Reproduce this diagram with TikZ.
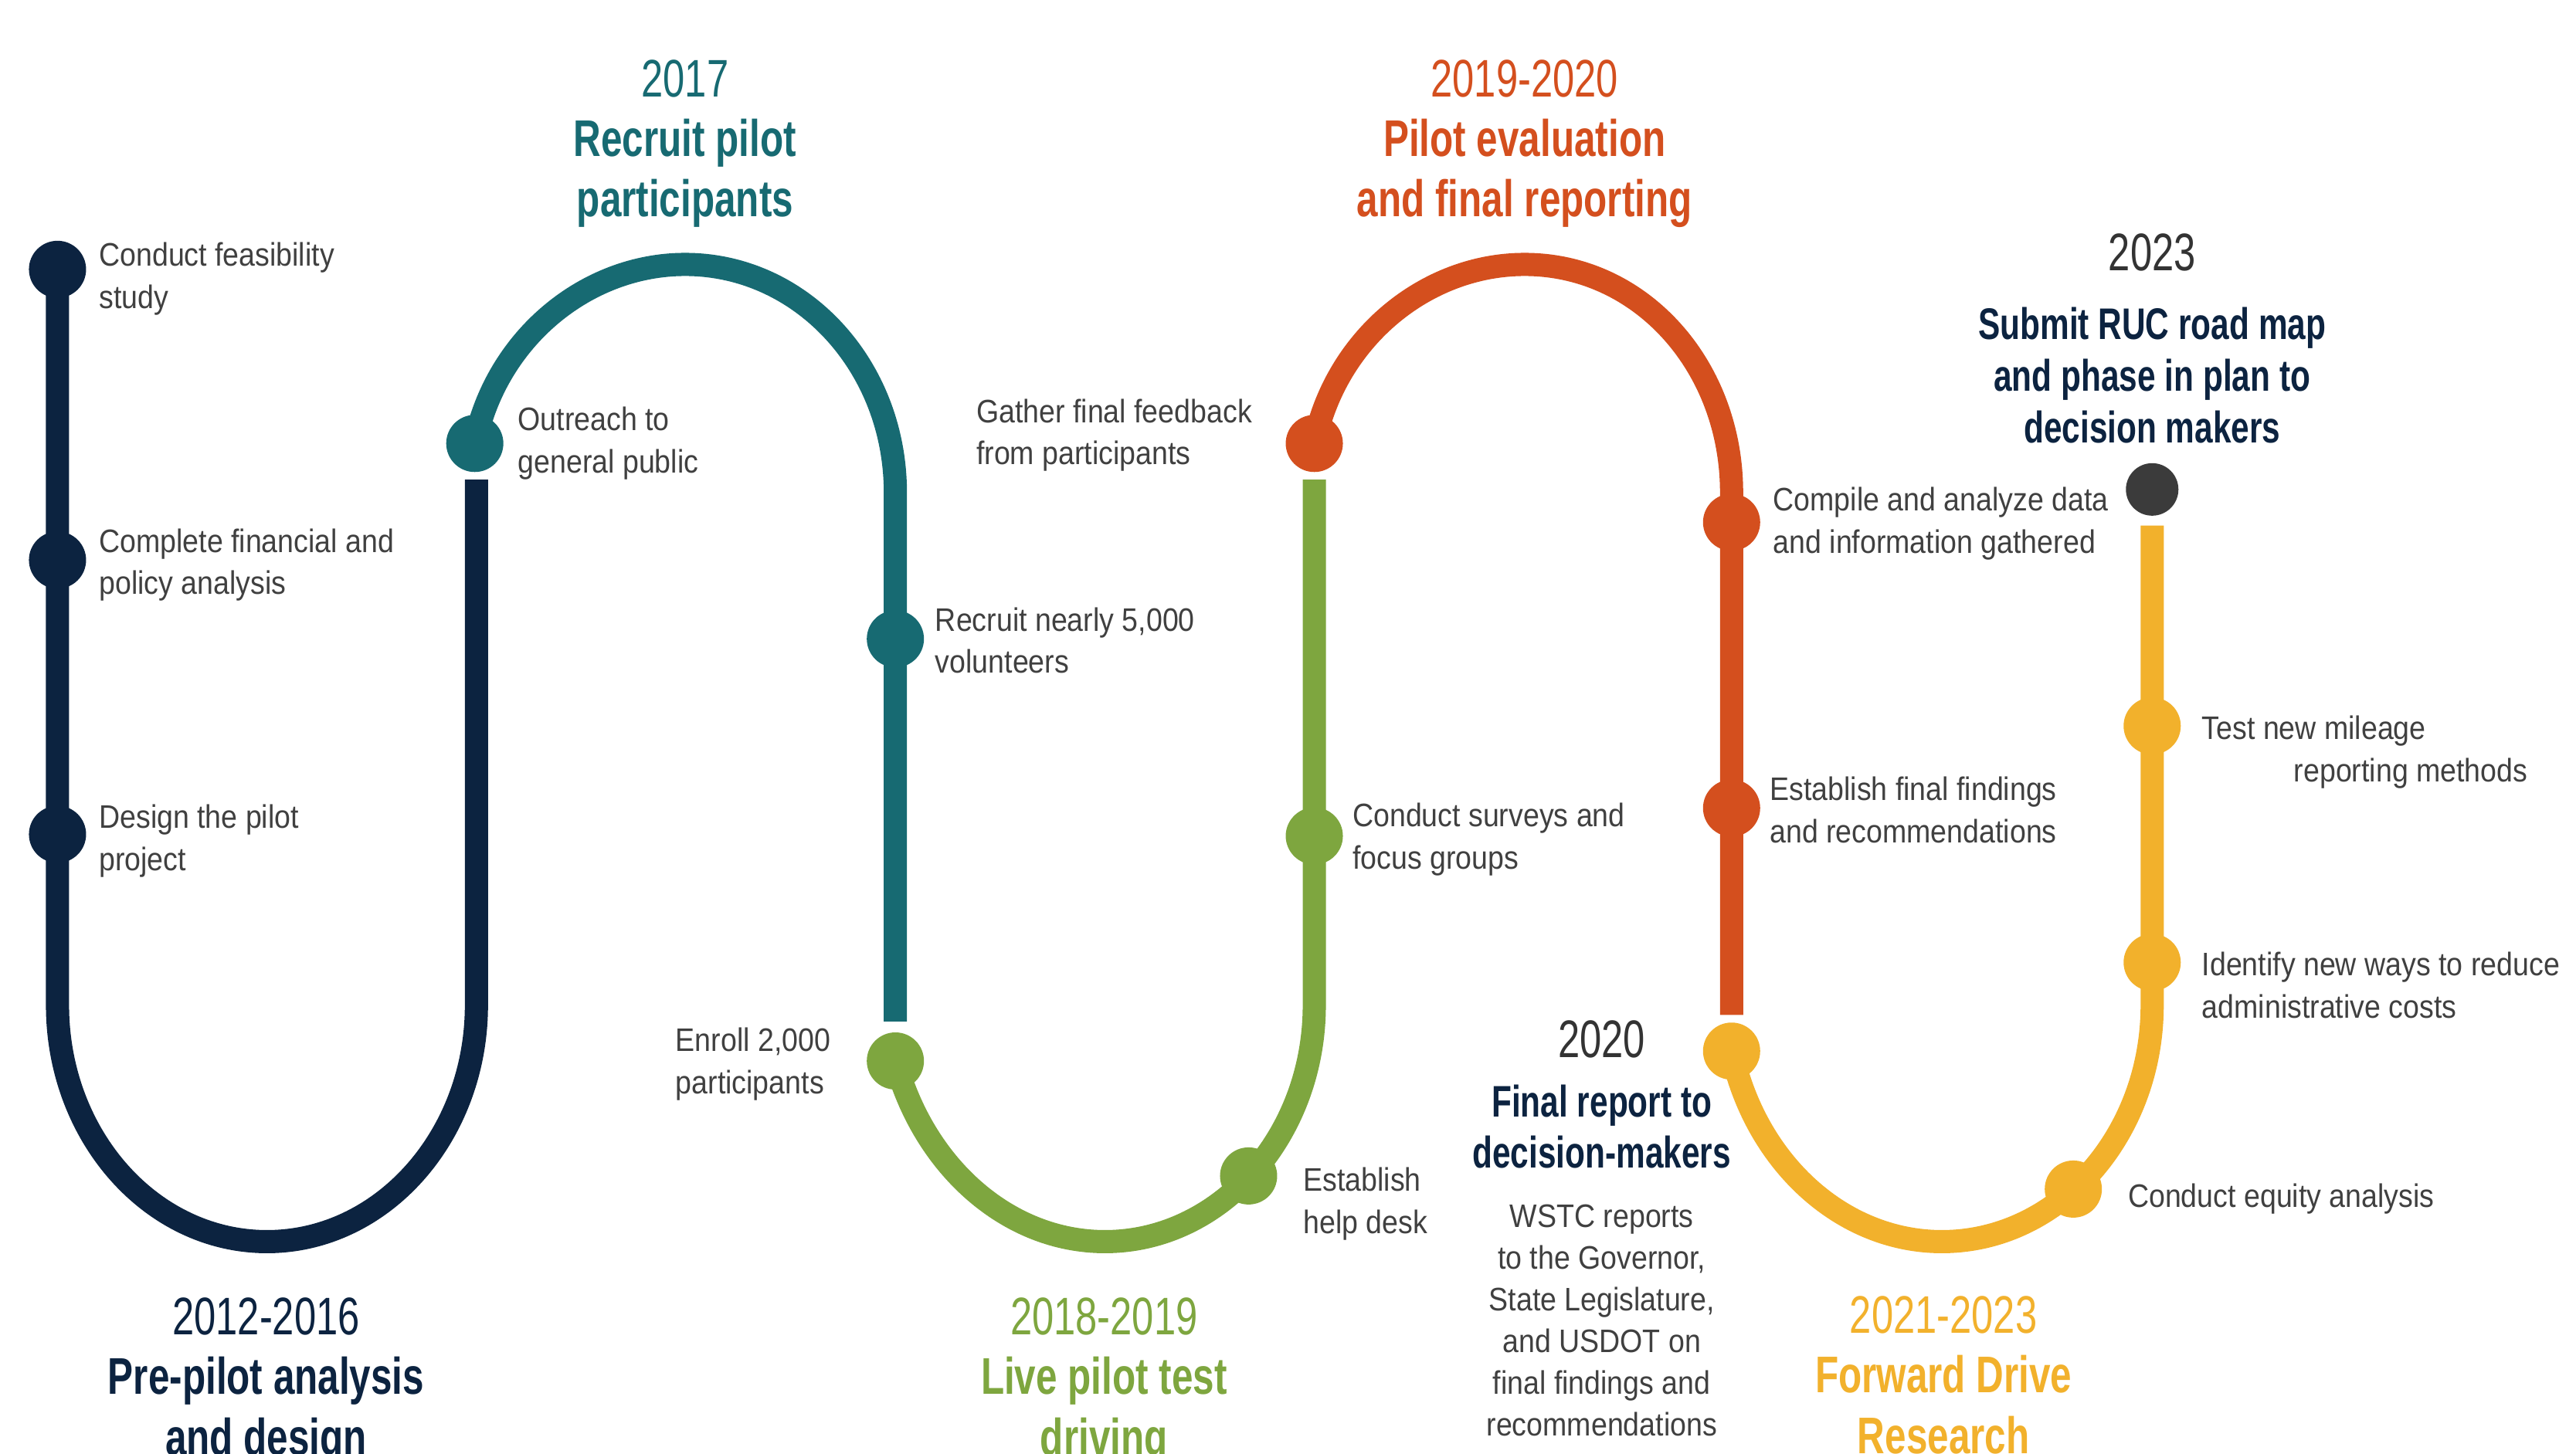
\documentclass[tikz,border=0pt]{standalone}
\usepackage{fontspec}
\setmainfont{Liberation Sans}[FakeStretch=0.89]
\newfontfamily\headfont{Liberation Sans}[FakeStretch=0.74]

\definecolor{navy}{HTML}{0C2340}
\definecolor{tealc}{HTML}{176A72}
\definecolor{greenc}{HTML}{7EA63F}
\definecolor{orangec}{HTML}{D44F1E}
\definecolor{yellowc}{HTML}{F2B12C}
\definecolor{inkgray}{HTML}{333333}
\definecolor{notegray}{HTML}{404040}
\definecolor{capgray}{HTML}{3B3B3B}

\tikzset{
  trackline/.style={line width=0.30cm},
  msdot/.style={circle, fill=#1, draw=none, inner sep=0pt, minimum size=0.74cm},
  endcap/.style={circle, fill=#1, draw=none, inner sep=0pt, minimum size=0.68cm},
  mslabel/.style={anchor=north west, align=left, inner sep=0pt, text=notegray,
    font=\fontsize{12}{15.6}\selectfont},
  yearlbl/.style={anchor=north, align=center, inner sep=0pt,
    font=\headfont\fontsize{19.5}{23}\selectfont},
  phasettl/.style={anchor=north, align=center, inner sep=0pt,
    font=\headfont\bfseries\fontsize{19}{22.4}\selectfont},
  subttl/.style={anchor=north, align=center, inner sep=0pt,
    font=\headfont\bfseries\fontsize{16.3}{19}\selectfont},
  memo/.style={anchor=north, align=center, inner sep=0pt, text=notegray,
    font=\fontsize{12}{15.4}\selectfont},
}

\begin{document}
\begin{tikzpicture}[x=0.02127cm, y=-0.02127cm]
\fill[white] (0,0) rectangle (1568,885);
\useasboundingbox (0,0) rectangle (1568,885);

% milestone positions
\coordinate (n1) at (35,164);
\coordinate (n2) at (35,341);
\coordinate (n3) at (35,508);
\coordinate (t1) at (289,270);
\coordinate (t2) at (545,389);
\coordinate (g1) at (545,646);
\coordinate (g2) at (760,716);
\coordinate (g3) at (800,509);
\coordinate (o1) at (800,270);
\coordinate (o2) at (1054,318);
\coordinate (o3) at (1054,492);
\coordinate (y1) at (1054,640);
\coordinate (y2) at (1262,724);
\coordinate (y3) at (1310,586);
\coordinate (y4) at (1310,442);
\coordinate (k1) at (1310,298);

% free ends of each stage, just short of the next stage's first dot
\coordinate (nEnd) at (290,292);
\coordinate (tEnd) at (545,622);
\coordinate (gEnd) at (800,292);
\coordinate (oEnd) at (1054,618);
\coordinate (yEnd) at (1310,320);

% 2012-2016: down, round the bottom, back up
\draw[trackline, navy] (n1) -- (35,612)
  .. controls (35,691.5) and (92.1,756) .. (162.5,756)
  .. controls (232.9,756) and (290,691.5) .. (290,612) -- (nEnd);

% 2017: arch over the top, then down
\draw[trackline, tealc] (t1)
  .. controls (302,206) and (357,161) .. (417,161)
  .. controls (488,161) and (545,223) .. (545,300) -- (t2) -- (tEnd);

% 2018-2019: bowl, then up
\draw[trackline, greenc] (g1)
  .. controls (562.4,710.5) and (613.7,756) .. (672.5,756)
  .. controls (742.9,756) and (800,691.5) .. (800,612) -- (g3) -- (gEnd);

% 2019-2020: arch, then down
\draw[trackline, orangec] (o1)
  .. controls (813,206) and (868,161) .. (928,161)
  .. controls (999,161) and (1054,223) .. (1054,300) -- (o2) -- (o3) -- (oEnd);

% 2021-2023: bowl, then up to the final milestone
\draw[trackline, yellowc] (y1)
  .. controls (1068.3,707.4) and (1120.9,756) .. (1182,756)
  .. controls (1252.7,756) and (1310,691.5) .. (1310,612) -- (y3) -- (y4) -- (yEnd);

% milestone dots
\node[msdot=navy] (dn1) at (n1) {};
\node[msdot=navy] (dn2) at (n2) {};
\node[msdot=navy] (dn3) at (n3) {};
\node[msdot=tealc] (dt1) at (t1) {};
\node[msdot=tealc] (dt2) at (t2) {};
\node[msdot=greenc] (dg1) at (g1) {};
\node[msdot=greenc] (dg2) at (g2) {};
\node[msdot=greenc] (dg3) at (g3) {};
\node[msdot=orangec] (do1) at (o1) {};
\node[msdot=orangec] (do2) at (o2) {};
\node[msdot=orangec] (do3) at (o3) {};
\node[msdot=yellowc] (dy1) at (y1) {};
\node[msdot=yellowc] (dy2) at (y2) {};
\node[msdot=yellowc] (dy3) at (y3) {};
\node[msdot=yellowc] (dy4) at (y4) {};
\node[endcap=capgray] (dk1) at (k1) {};

% phase headings
\node[yearlbl, text=tealc] (yr2017) at (417,36) {2017};
\node[phasettl, text=tealc] (ttl2017) at (417,72) {Recruit pilot\\participants};
\node[yearlbl, text=orangec] (yr2019) at (928,36) {2019-2020};
\node[phasettl, text=orangec] (ttl2019) at (928,72) {Pilot evaluation\\and final reporting};
\node[yearlbl, text=inkgray] (yr2023) at (1310,142) {2023};
\node[subttl, text=navy] (ttl2023) at (1310,187) {Submit RUC road map\\and phase in plan to\\decision makers};
\node[yearlbl, text=navy] (yr2012) at (162,790) {2012-2016};
\node[phasettl, text=navy] (ttl2012) at (162,826) {Pre-pilot analysis\\and design};
\node[yearlbl, text=greenc] (yr2018) at (672,790) {2018-2019};
\node[phasettl, text=greenc] (ttl2018) at (672,826) {Live pilot test\\driving};
\node[yearlbl, text=yellowc] (yr2021) at (1183,789) {2021-2023};
\node[phasettl, text=yellowc] (ttl2021) at (1183,825) {Forward Drive\\Research};
\node[yearlbl, text=inkgray] (yr2020) at (975,621) {2020};
\node[subttl, text=navy] (ttl2020) at (975,660) {Final report to\\decision-makers};
\node[memo] (wstc) at (975,733) {WSTC reports\\to the Governor,\\State Legislature,\\and USDOT on\\final findings and\\recommendations};

% milestone captions
\node[mslabel] (l1) at (60,147.5) {Conduct feasibility\\study};
\node[mslabel] (l2) at (60,321.5) {Complete financial and\\policy analysis};
\node[mslabel] (l3) at (60,489.5) {Design the pilot\\project};
\node[mslabel] (l4) at (315,247.5) {Outreach to\\general public};
\node[mslabel] (l5) at (594,242.5) {Gather final feedback\\from participants};
\node[mslabel] (l6) at (569,369.5) {Recruit nearly 5,000\\volunteers};
\node[mslabel] (l7) at (411,625.5) {Enroll 2,000\\participants};
\node[mslabel] (l8) at (823,488.5) {Conduct surveys and\\focus groups};
\node[mslabel] (l9) at (793,710.5) {Establish\\help desk};
\node[mslabel] (l10) at (1079,296.5) {Compile and analyze data\\and information gathered};
\node[mslabel] (l11) at (1077,472.5) {Establish final findings\\and recommendations};
\node[mslabel] (l12) at (1340,435.5) {Test new mileage\\\hspace*{1.19cm}reporting methods};
\node[mslabel] (l13) at (1340,579.5) {Identify new ways to reduce\\administrative costs};
\node[mslabel] (l14) at (1295,720.5) {Conduct equity analysis};
\end{tikzpicture}
\end{document}
